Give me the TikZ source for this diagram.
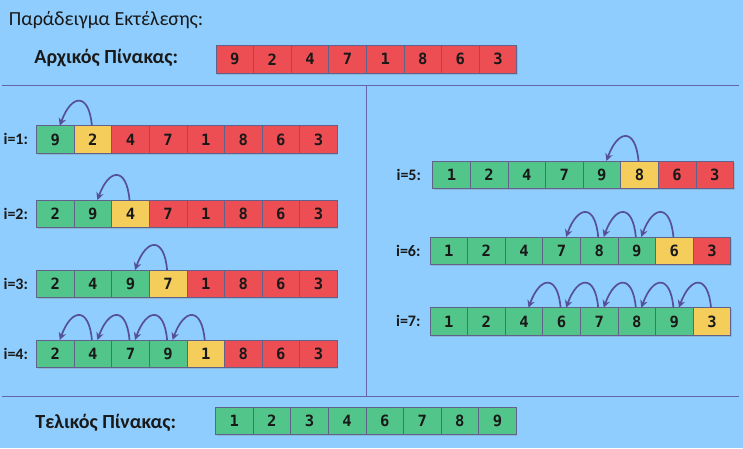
\documentclass[tikz,border=0pt]{standalone}
\usepackage{fontspec}
\setmainfont{Carlito}
\newfontfamily\digitfont{DejaVu Sans Mono}
\usepackage{xcolor}
\usetikzlibrary{arrows.meta, positioning, shadows}

\definecolor{skyback}{RGB}{142,205,253}
\definecolor{cellred}{RGB}{236,78,84}
\definecolor{cellgreen}{RGB}{82,198,138}
\definecolor{cellyellow}{RGB}{245,205,90}
\definecolor{celledge}{RGB}{96,98,140}
\definecolor{hopcolor}{RGB}{86,80,150}
\definecolor{divcolor}{RGB}{100,100,172}

\begin{document}
\begin{tikzpicture}[
    x=1pt, y=1pt,
    every node/.style={inner sep=0pt, outer sep=0pt, text=black!90},
    cell/.style={rectangle, draw=celledge, line width=0.8pt, minimum width=37.6pt, minimum height=27.6pt,
        font=\digitfont\bfseries\fontsize{15.5}{15.5}\selectfont,
        drop shadow={shadow xshift=1pt, shadow yshift=-1.5pt, opacity=0.3}},
    rowlabel/.style={font=\bfseries\fontsize{16}{16}\selectfont, anchor=base east},
    heading/.style={font=\bfseries\fontsize{20}{20}\selectfont, anchor=base east},
    hop/.style={-{Stealth[length=7.5pt, width=7.5pt]}, draw=hopcolor, line width=1.7pt, out=95, in=70, looseness=2.7},
    divider/.style={draw=divcolor, line width=0.9pt}
]

% Background
\fill[skyback] (0,0) rectangle (743,-448);
\useasboundingbox (0,0) rectangle (743,-448);

% Dividers
\draw[divider] (2,-85) -- (739,-85);
\draw[divider] (366.5,-85) -- (366.5,-396);
\draw[divider] (2,-396) -- (739,-396);

% Headings
\node[anchor=base west, font=\fontsize{20}{20}\selectfont] (title) at (9,-25) {Παράδειγμα Εκτέλεσης:};
\node[heading] (start) at (178,-63.5) {Αρχικός Πίνακας:};
\node[heading] (result) at (176,-428) {Τελικός Πίνακας:};

% Initial and final arrays
\foreach \v [count=\k] in {9,2,4,7,1,8,6,3}
    \node[cell, fill=cellred] (init-\k) at ({216+(\k-0.5)*37.6},-59.3) {\v};
\foreach \v [count=\k] in {1,2,3,4,6,7,8,9}
    \node[cell, fill=cellgreen] (final-\k) at ({215.5+(\k-0.5)*37.6},-421) {\v};

% Steps
\foreach \r/\lx/\x/\t/\vals in {
    1/28/36.5/125.7/{9,2,4,7,1,8,6,3},
    2/28/36.5/200/{2,9,4,7,1,8,6,3},
    3/28/36.5/270/{2,4,9,7,1,8,6,3},
    4/28/36.5/340/{2,4,7,9,1,8,6,3},
    5/421/432.7/161/{1,2,4,7,9,8,6,3},
    6/420.5/430/237/{1,2,4,7,8,9,6,3},
    7/420.5/430/307.7/{1,2,4,6,7,8,9,3}} {
    \node[rowlabel] (label-\r) at (\lx,{-\t-19.1}) {i=\r:};
    \foreach \v [count=\k] in \vals {
        \ifnum\k>\r
            \ifnum\k=\numexpr\r+1\relax \def\fc{cellyellow}\else \def\fc{cellred}\fi
        \else
            \def\fc{cellgreen}
        \fi
        \node[cell, fill=\fc] (row\r-\k) at ({\x+(\k-0.5)*37.6},{-\t-13.8}) {\v};
    }
}

% Arrows
\foreach \r/\p in {1/1,2/2,3/3,4/1,5/5,6/4,7/3} {
    \foreach \j in {\p,...,\r} {
        \pgfmathtruncatemacro\src{\j+1}
        \draw[hop] ([xshift=-1pt]row\r-\src.north) to ([xshift=4.5pt]row\r-\j.north);
    }
}

\end{tikzpicture}
\end{document}
